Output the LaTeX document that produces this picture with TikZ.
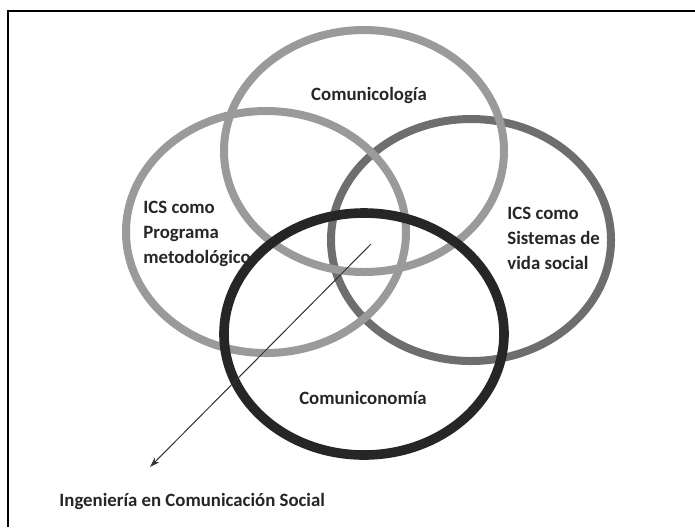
\documentclass[tikz,border=0pt]{standalone}
\usepackage{fontspec}
\setmainfont{Carlito}
\usepackage{tikz}
\usetikzlibrary{shapes.geometric, arrows.meta, positioning}

\definecolor{grisclaro}{HTML}{9A9A9A}
\definecolor{grisoscuro}{HTML}{6E6E6E}
\definecolor{casinegro}{HTML}{262626}

\begin{document}
\begin{tikzpicture}[
    x=0.5pt, y=-0.5pt,
    anillo/.style={ellipse, draw, inner sep=0pt, minimum width=140pt, minimum height=121pt, line width=4pt},
    etiqueta/.style={font=\bfseries\fontsize{9.4}{12.5}\selectfont, text=black!85, inner sep=0pt},
    flecha/.style={-{Stealth[length=5pt, width=3.2pt]}, line width=0.5pt, draw=black!80}
]
\useasboundingbox (0,0) rectangle (695,527);

% Marco
\draw[line width=1pt] (8,527) -- (8,11) -- (695,11);

% Anillos
\node[anillo, draw=grisoscuro] (vida) at (471,240) {};
\node[anillo, draw=grisclaro] (comunicologia) at (364,151) {};
\node[anillo, draw=grisclaro] (programa) at (266,232) {};
\node[anillo, draw=casinegro, line width=4.8pt] (comuniconomia) at (364,334) {};

% Textos
\node[etiqueta] (tcomunicologia) at (369,95) {Comunicología};
\node[etiqueta, anchor=west, align=left] (tprograma) at (143,234) {ICS como\\Programa\\metodológico};
\node[etiqueta, anchor=west, align=left] (tvida) at (507,238) {ICS como\\Sistemas de\\vida social};
\node[etiqueta] (tcomuniconomia) at (363,398) {Comuniconomía};
\node[etiqueta, anchor=west] (ingenieria) at (59,501) {Ingeniería en Comunicación Social};

% Flecha
\coordinate (centro) at (371,244);
\coordinate (punta) at (150,467);
\draw[flecha] (centro) -- (punta);
\end{tikzpicture}
\end{document}
